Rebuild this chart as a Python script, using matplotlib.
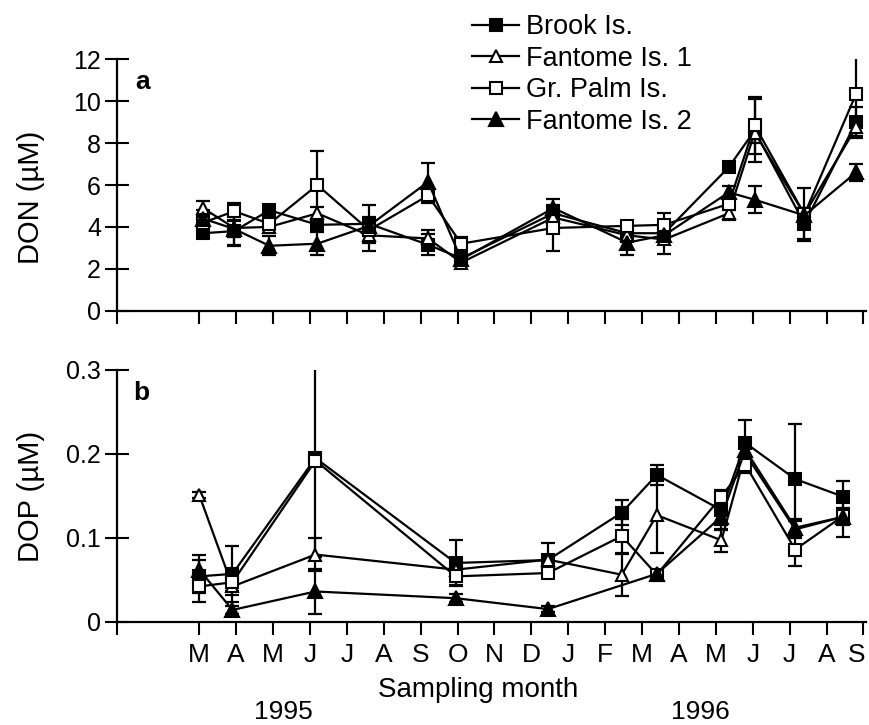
import matplotlib
matplotlib.use('Agg')
import matplotlib.pyplot as plt
from matplotlib.transforms import ScaledTranslation

plt.rcParams['font.family'] = ['Liberation Sans', 'DejaVu Sans']

# sampling month as month number from Jan 1995 (3 = March 1995, 21 = Sept 1996)
month_a = [3.1, 3.95, 4.9, 6.2, 7.6, 9.2, 10.1, 12.6, 14.6, 15.6, 17.35, 18.05, 19.4, 20.8]
month_b = [3.0, 3.9, 6.15, 9.95, 12.45, 14.45, 15.4, 17.15, 17.8, 19.15, 20.45]
month_b_f2 = [3.0, 3.9, 6.15, 9.95, 12.45, 15.4, 17.15, 17.8, 19.15, 20.45]

# DON (uM)
don_brook = [3.7, 3.8, 4.8, 4.1, 4.15, 3.15, 2.5, 4.65, 3.7, 3.7, 6.85, 8.6, 4.15, 9.0]
don_brook_err = [0.15, 0.7, 0.15, 0.3, 0.9, 0.5, 0.2, 0.3, 0.2, 0.2, 0.2, 1.5, 0.75, 0.7]
don_fant1 = [4.9, 3.95, 4.0, 4.65, 3.6, 3.45, 2.3, 4.45, 3.6, 3.4, 4.65, 8.5, 4.6, 8.75]
don_fant1_err = [0.35, 0.8, 0.3, 0.3, 0.75, 0.4, 0.15, 0.3, 0.3, 0.7, 0.3, 0.5, 0.3, 0.5]
don_palm = [4.2, 4.75, 4.15, 6.0, 3.85, 5.5, 3.2, 3.95, 4.05, 4.1, 5.1, 8.85, 4.6, 10.35]
don_palm_err = [0.2, 0.4, 0.2, 1.6, 0.3, 0.35, 0.3, 1.1, 0.15, 0.55, 0.3, 1.35, 1.25, 2.0]
don_fant2 = [4.4, 3.9, 3.1, 3.2, 4.05, 6.15, 2.45, 4.9, 3.25, 3.6, 5.65, 5.3, 4.55, 6.6]
don_fant2_err = [0.4, 0.4, 0.45, 0.55, 0.4, 0.9, 0.2, 0.45, 0.6, 0.3, 0.3, 0.65, 0.3, 0.4]

# DOP (uM)
dop_brook = [0.054, 0.057, 0.195, 0.07, 0.0735, 0.13, 0.175, 0.133, 0.213, 0.17, 0.149]
dop_brook_err = [0.02, 0.033, 0.005, 0.027, 0.02, 0.015, 0.012, 0.024, 0.027, 0.066, 0.019]
dop_fant1 = [0.151, 0.042, 0.08, 0.062, 0.074, 0.056, 0.127, 0.097, 0.2, 0.11, 0.125]
dop_fant1_err = [0.004, 0.01, 0.02, 0.01, 0.005, 0.025, 0.045, 0.014, 0.015, 0.01, 0.01]
dop_palm = [0.042, 0.047, 0.192, 0.054, 0.058, 0.102, 0.056, 0.149, 0.187, 0.086, 0.126]
dop_palm_err = [0.019, 0.01, 0.115, 0.01, 0.005, 0.02, 0.005, 0.005, 0.01, 0.02, 0.025]
dop_fant2 = [0.062, 0.014, 0.036, 0.028, 0.015, 0.057, 0.125, 0.205, 0.112, 0.125]
dop_fant2_err = [0.018, 0.005, 0.027, 0.005, 0.004, 0.005, 0.01, 0.01, 0.01, 0.005]

month_ticks = list(range(3, 22))
month_labels = ['M', 'A', 'M', 'J', 'J', 'A', 'S', 'O', 'N', 'D',
                'J', 'F', 'M', 'A', 'M', 'J', 'J', 'A', 'S']
names = ['Brook Is.', 'Fantome Is. 1', 'Gr. Palm Is.', 'Fantome Is. 2']
styles = [dict(marker='s', mfc='k', ms=8.5),
          dict(marker='^', mfc='w', ms=8.5),
          dict(marker='s', mfc='w', ms=8.5),
          dict(marker='^', mfc='k', ms=9.5)]

fig = plt.figure(figsize=(8.69, 7.25), dpi=100)
ax_a = fig.add_axes([0.1346, 0.5714, 0.862, 0.3468])
ax_b = fig.add_axes([0.1346, 0.1425, 0.862, 0.3472])


def draw(ax, series):
    handles = []
    for (x, y, e), name, st in zip(series, names, styles):
        ax.errorbar(x, y, yerr=e, fmt='none', ecolor='k', elinewidth=1.6,
                    capsize=5, capthick=1.6, zorder=2)
        h, = ax.plot(x, y, color='k', lw=1.6, mec='k', mew=1.5, label=name,
                     zorder=3, **st)
        handles.append(h)
    return handles


handles = draw(ax_a, [(month_a, don_brook, don_brook_err),
                      (month_a, don_fant1, don_fant1_err),
                      (month_a, don_palm, don_palm_err),
                      (month_a, don_fant2, don_fant2_err)])
draw(ax_b, [(month_b, dop_brook, dop_brook_err),
            (month_b, dop_fant1, dop_fant1_err),
            (month_b, dop_palm, dop_palm_err),
            (month_b_f2, dop_fant2, dop_fant2_err)])

for ax in (ax_a, ax_b):
    ax.set_xlim(0.77, 21.07)
    for s in ('top', 'right'):
        ax.spines[s].set_visible(False)
    for s in ('left', 'bottom'):
        ax.spines[s].set_linewidth(1.6)
    ax.set_xticks([0.77] + month_ticks)
    ax.tick_params(axis='x', direction='out', length=9, width=1.5, labelsize=19, pad=6)
    ax.tick_params(axis='y', direction='inout', length=17, width=1.5, labelsize=18, pad=3)

ax_a.set_xticklabels([''] * 20)
ax_b.set_xticklabels([''] + month_labels)
# nudge the last "S" so it stays inside the figure
last = ax_b.get_xticklabels()[-1]
last.set_transform(last.get_transform() + ScaledTranslation(-5 / 72, 0, fig.dpi_scale_trans))

ax_a.set_ylim(0, 12)
ax_a.set_yticks([0, 2, 4, 6, 8, 10, 12])
ax_b.set_ylim(0, 0.3)
ax_b.set_yticks([0, 0.1, 0.2, 0.3])
ax_b.set_yticklabels(['0', '0.1', '0.2', '0.3'])

ax_a.text(0.025, 0.91, 'a', transform=ax_a.transAxes, fontsize=19,
          fontweight='bold', ha='left', va='center')
ax_b.text(0.022, 0.91, 'b', transform=ax_b.transAxes, fontsize=19,
          fontweight='bold', ha='left', va='center')

fig.text(0.036, 1 - 197 / 725, 'DON (µM)', rotation=90, fontsize=21,
         ha='center', va='center')
fig.text(0.036, 1 - 496 / 725, 'DOP (µM)', rotation=90, fontsize=21,
         ha='center', va='center')
fig.text(478 / 869, 1 - 690 / 725, 'Sampling month', fontsize=20, ha='center', va='center')
fig.text(283 / 869, 1 - 712 / 725, '1995', fontsize=19, ha='center', va='center')
fig.text(700 / 869, 1 - 712 / 725, '1996', fontsize=19, ha='center', va='center')

fig.legend(handles=handles, loc='upper left', bbox_to_anchor=(0.543, 0.98),
           frameon=False, fontsize=19.5, handlelength=1.75, handletextpad=0.25,
           labelspacing=0.2, borderpad=0, borderaxespad=0)

fig.savefig('out.png', dpi=100)
